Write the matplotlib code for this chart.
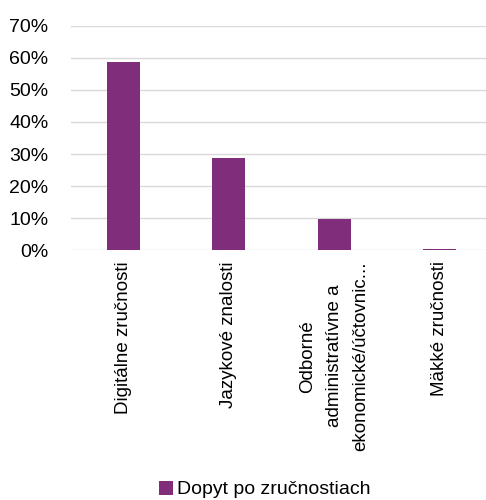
import matplotlib.pyplot as plt
from matplotlib.ticker import PercentFormatter

categories = [
    "Digitálne zručnosti",
    "Jazykové znalosti",
    "Odborné\nadministratívne a\nekonomické/účtovnic...",
    "Mäkké zručnosti",
]
demand = [0.588, 0.288, 0.0975, 0.005]
series_name = "Dopyt po zručnostiach"
y_ticks = [0, 0.1, 0.2, 0.3, 0.4, 0.5, 0.6, 0.7]

plt.rcParams['font.family'] = ['Liberation Sans', 'DejaVu Sans']

fig = plt.figure(figsize=(4.86, 5.0), dpi=100)
ax = fig.add_axes([70.5 / 486, 0.4994, 1 - 70.5 / 486, 0.4492])

ax.bar(range(len(categories)), demand, width=0.31, color='#802D7C',
       label=series_name, zorder=3)

ax.set_xlim(-0.5, 3.438)
ax.set_ylim(0, 0.7)
ax.set_yticks(y_ticks)
ax.yaxis.set_major_formatter(PercentFormatter(1.0, decimals=0))
ax.grid(axis='y', color='#D9D9D9', linewidth=1.0, zorder=0)
ax.set_axisbelow(True)
for s in ax.spines.values():
    s.set_visible(False)

ax.set_xticks(range(len(categories)))
ax.set_xticklabels(categories, rotation=90, fontsize=13.5,
                   multialignment='center', linespacing=1.75)
ax.tick_params(axis='x', length=0, pad=8)
ax.tick_params(axis='y', length=0, pad=16, labelsize=14)

fig.legend(loc='lower center', bbox_to_anchor=(0.545, -0.032), frameon=False,
           fontsize=14, handlelength=0.7, handleheight=0.7, handletextpad=0.2)

fig.savefig('out.png', dpi=100)
